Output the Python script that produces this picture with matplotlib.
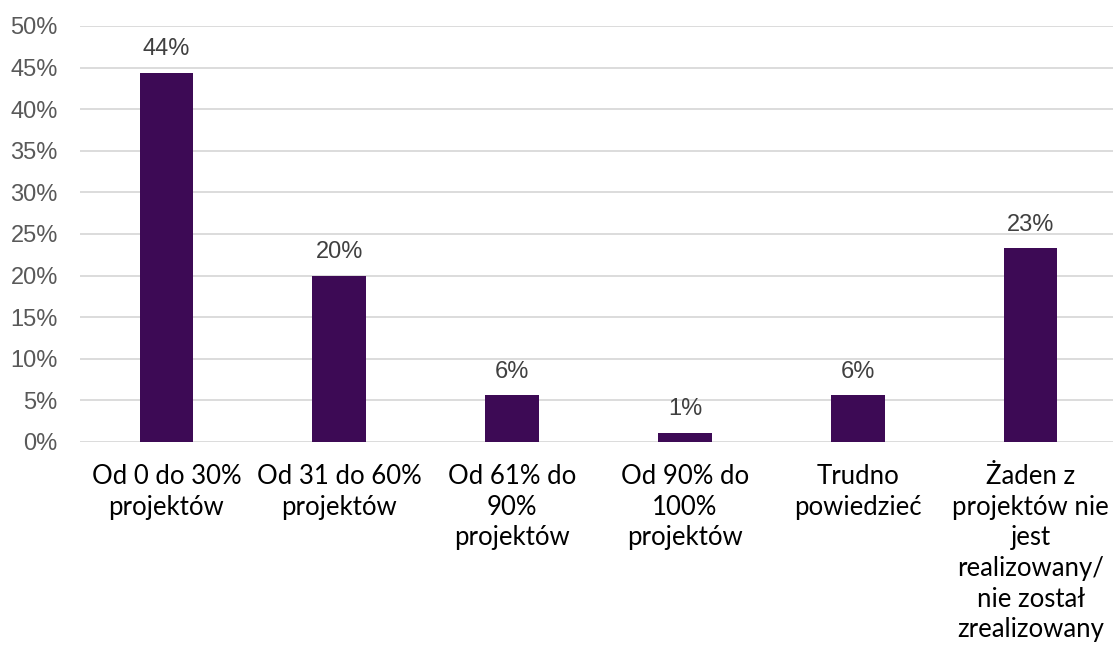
import matplotlib
matplotlib.use("Agg")
import matplotlib.pyplot as plt
from matplotlib.ticker import PercentFormatter

categories = ["Od 0 do 30%\nprojektów", "Od 31 do 60%\nprojektów", "Od 61% do\n90%\nprojektów",
              "Od 90% do\n100%\nprojektów", "Trudno\npowiedzieć",
              "Żaden z\nprojektów nie\njest\nrealizowany/\nnie został\nzrealizowany"]
values = [44.4, 20.0, 5.6, 1.1, 5.6, 23.3]
labels = ["44%", "20%", "6%", "1%", "6%", "23%"]

fig = plt.figure(figsize=(11.13, 6.46), dpi=100)
ax = fig.add_axes([80/1113, 204/646, 1037/1113, 416/646])

x = range(len(values))
ax.bar(x, values, width=0.31, color="#3D0A55", zorder=3)
for i, v in enumerate(values):
    ax.text(i, v + 1.5, labels[i], ha="center", va="bottom", fontsize=17,
            color="#404040", family="Liberation Sans")

ax.set_xlim(-0.5, 5.5)
ax.set_ylim(0, 50)
ax.set_yticks(range(0, 51, 5))
ax.yaxis.set_major_formatter(PercentFormatter(decimals=0))
ax.grid(axis="y", color="#D9D9D9", linewidth=1.3, zorder=0)
for s in ax.spines.values():
    s.set_visible(False)
ax.tick_params(axis="y", length=0, pad=16, labelsize=17, labelcolor="#595959")
for t in ax.get_yticklabels():
    t.set_family("Liberation Sans")
ax.set_xticks(list(x))
ax.set_xticklabels(categories, fontsize=18.5, family="Lato", linespacing=1.28, color="black")
ax.tick_params(axis="x", length=0, pad=16)

fig.savefig("out.png", dpi=100)
